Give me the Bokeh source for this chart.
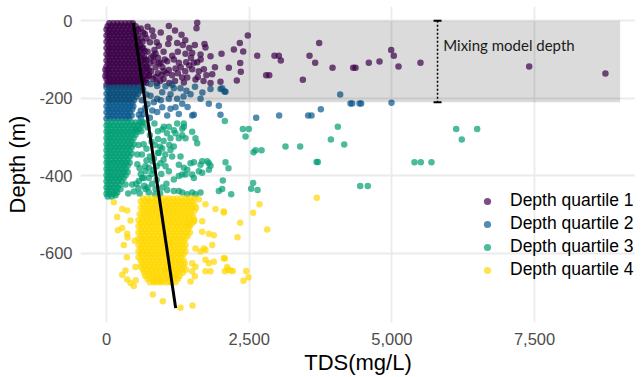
from bokeh.plotting import figure
from bokeh.models import ColumnDataSource, FixedTicker, Legend, LegendItem, Range1d, NumeralTickFormatter, CustomJSTickFormatter
from bokeh.embed import file_html
from bokeh.resources import INLINE
from bokeh.core.properties import value

# ---------------- data ----------------
quartile_labels = ["Depth quartile 1", "Depth quartile 2", "Depth quartile 3", "Depth quartile 4"]
quartile_colors = ["#440154", "#0A5A8E", "#009E73", "#FFD700"]

x_ticks = [0, 2500, 5000, 7500]
y_ticks = [0, -200, -400, -600]

# mixing model depth band and bracket
mix_tds_left = 0
mix_tds_right = 9000
mix_depth_top = 0
mix_depth_bottom = -210
bracket_tds = 5800
bracket_label = "Mixing model depth"
bracket_label_tds = 5900
bracket_label_depth = -62

# trend line
trend_tds = [469, 1212]
trend_depth = [-5, -741]

# dense parts of each quartile, read row by row: (depth m, [TDS mg/L ...])
q1_rows = [
    (-6, [50,120,190,260,330,400,460]),
    (-14, [20,90,160,230,300,370,440,510]),
    (-22, [0,60,130,200,270,340,410,480,550]),
    (-30, [30,100,170,240,310,380,450,520]),
    (-38, [0,60,130,200,270,340,410,480,550]),
    (-46, [30,100,170,240,310,380,450,520,600]),
    (-54, [0,60,130,200,270,340,410,480,550,630]),
    (-62, [30,100,170,240,310,380,450,520,590]),
    (-70, [0,60,130,200,270,340,410,480,550,620]),
    (-78, [30,100,170,240,310,380,450,520,590,670]),
    (-86, [0,60,130,200,270,340,410,480,550,620]),
    (-94, [30,100,170,240,310,380,450,520,590,660]),
    (-102, [0,60,130,200,270,340,410,480,550,620,700]),
    (-110, [30,100,170,240,310,380,450,520,590,660]),
    (-118, [0,60,130,200,270,340,410,480,550,620,700]),
    (-126, [-20,30,100,170,240,310,380,450,520,590,660,740]),
    (-134, [0,60,130,200,270,340,410,480,550,620,700]),
    (-142, [-20,30,100,170,240,310,380,450,520,590,660,740]),
    (-150, [0,60,130,200,270,340,410,480,550,620,700]),
    (-158, [30,100,170,240,310,380,450,520,590,660]),
    (-165, [0,60,130,200,270,340,410,480,550]),
]
q2_rows = [
    (-172, [0,60,130,200,270,340,410,480,550,620]),
    (-180, [30,100,170,240,310,380,450,520,590]),
    (-188, [0,60,130,200,270,340,410,480,550]),
    (-196, [30,100,170,240,310,380,450,520]),
    (-204, [0,60,130,200,270,340,410,480]),
    (-212, [30,100,170,240,310,380,450]),
    (-220, [0,60,130,200,270,340,410,470]),
    (-228, [30,100,170,240,310,380,450]),
    (-236, [0,60,130,200,270,340,410]),
    (-244, [30,100,170,240,310,380,440]),
    (-252, [0,60,130,200,270,340,400]),
]
q3_rows = [
    (-262, [20,90,160,230,300,370,440,510,580,650]),
    (-270, [0,55,125,195,265,335,405,475,545,620]),
    (-278, [20,90,160,230,300,370,440,510,580]),
    (-286, [0,55,125,195,265,335,405,475,545]),
    (-294, [20,90,160,230,300,370,440,510]),
    (-302, [0,55,125,195,265,335,405,475]),
    (-310, [20,90,160,230,300,370,440]),
    (-318, [0,55,125,195,265,335,405,475]),
    (-326, [20,90,160,230,300,370,440]),
    (-334, [0,55,125,195,265,335,405]),
    (-342, [20,90,160,230,300,370,440]),
    (-350, [0,55,125,195,265,335,405]),
    (-358, [20,90,160,230,300,370]),
    (-366, [0,55,125,195,265,335,405]),
    (-374, [20,90,160,230,300,370]),
    (-382, [0,55,125,195,265,335]),
    (-390, [20,90,160,230,300,370]),
    (-398, [0,55,125,195,265,335]),
    (-406, [20,90,160,230,300]),
    (-414, [0,55,125,195,265]),
    (-422, [20,90,160,230]),
    (-430, [0,55,125,195]),
    (-438, [20,90,160]),
    (-446, [0,55,125]),
    (-453, [20,90]),
]
q4_rows = [
    (-458, [640,715,790,865,940,1015,1090,1165,1240,1315,1390,1465,1540]),
    (-466, [600,675,750,825,900,975,1050,1125,1200,1275,1350,1425,1500]),
    (-474, [640,715,790,865,940,1015,1090,1165,1240,1315,1390,1465,1540]),
    (-482, [600,675,750,825,900,975,1050,1125,1200,1275,1350,1425,1500,1570]),
    (-490, [640,715,790,865,940,1015,1090,1165,1240,1315,1390,1465,1540]),
    (-498, [580,655,730,805,880,955,1030,1105,1180,1255,1330,1405,1480]),
    (-506, [620,695,770,845,920,995,1070,1145,1220,1295,1370,1445,1520]),
    (-514, [560,635,710,785,860,935,1010,1085,1160,1235,1310,1385,1460,1540]),
    (-522, [600,675,750,825,900,975,1050,1125,1200,1275,1350,1425,1500]),
    (-530, [560,635,710,785,860,935,1010,1085,1160,1235,1310,1385,1460]),
    (-538, [600,675,750,825,900,975,1050,1125,1200,1275,1350,1425]),
    (-546, [560,635,710,785,860,935,1010,1085,1160,1235,1310,1385,1460]),
    (-554, [600,675,750,825,900,975,1050,1125,1200,1275,1350,1425]),
    (-562, [560,635,710,785,860,935,1010,1085,1160,1235,1310,1385]),
    (-570, [600,675,750,825,900,975,1050,1125,1200,1275,1350]),
    (-578, [560,635,710,785,860,935,1010,1085,1160,1235,1310,1385]),
    (-586, [600,675,750,825,900,975,1050,1125,1200,1275,1350]),
    (-594, [560,635,710,785,860,935,1010,1085,1160,1235,1310,1385]),
    (-602, [600,675,750,825,900,975,1050,1125,1200,1275,1350]),
    (-610, [560,635,710,785,860,935,1010,1085,1160,1235,1310]),
    (-618, [600,675,750,825,900,975,1050,1125,1200,1275,1350]),
    (-626, [620,695,770,845,920,995,1070,1145,1220,1295,1370]),
    (-634, [600,675,750,825,900,975,1050,1125,1200,1275,1350]),
    (-642, [640,715,790,865,940,1015,1090,1165,1240,1315,1390]),
    (-650, [660,735,810,885,960,1035,1110,1185,1260,1335]),
    (-658, [680,755,830,905,980,1055,1130,1205,1280]),
    (-666, [720,795,870,945,1020,1095,1170,1250]),
    (-674, [760,835,910,985,1060,1135,1210]),
]

# scattered points of each quartile: (TDS mg/L, depth m)
q1_points = [
    (600,-20),(700,-45),(760,-55),(640,-70),(720,-80),(780,-95),(860,-120),(900,-135),(960,-140),(1000,-150),
    (820,-150),(880,-160),(750,-140),(680,-100),(760,-110),(840,-75),(900,-95),(980,-120),(1150,-140),(1200,-155),
    (1100,-160),(1250,-135),(1300,-120),(1180,-100),(1450,-115),(1380,-130),(1480,-95),(1650,-100),(1750,-140),
    (1600,-145),(1700,-155),(1900,-120),(1250,-80),(1450,-70),(1100,-45),(950,-30),(800,-25),(1200,-25),(1380,-50),(1000,-80),
    (640,-30),(720,-15),(820,-40),(880,-55),(700,-120),(780,-130),(820,-90),(920,-110),(860,-145),(940,-155),
    (1020,-100),(1050,-135),(640,-150),(700,-160),
    (1092,-13),(1589,-5),(1577,-19),(1314,-36),(671,-34),(916,-64),(1081,-60),(1238,-57),(1337,-62),(1547,-62),
    (1717,-60),(1734,-69),(858,-85),(1151,-90),(1384,-85),(1501,-83),(1647,-87),(1822,-91),(829,-104),(946,-108),
    (1063,-104),(1267,-108),(1396,-107),(1530,-108),(1589,-107),(1705,-125),(1004,-130),(1092,-127),(1209,-123),
    (1501,-125),(1617,-130),(1852,-138),(1326,-146),(1414,-146),(1559,-151),(1355,-159),(1822,-160),
    (2476,-38),(2336,-57),(2231,-74),(2395,-79),(2015,-85),(2640,-90),(2943,-90),(3019,-90),(3054,-102),(2342,-109),
    (2143,-121),(2353,-131),(2798,-140),(2851,-140),(2283,-154),(1997,-157),(3440,-152),(3726,-57),(3557,-90),
    (3656,-108),(3960,-121),(4322,-121),(4363,-121),(4596,-108),(4783,-105),(4988,-75),(5034,-90),(5116,-118),
    (5501,-108),(7406,-118),(8742,-136),
]
q2_points = [
    (640,-178),(700,-190),(620,-205),(720,-215),(680,-225),(600,-232),(830,-210),(950,-205),(1400,-180),(1550,-170),
    (1680,-185),(1150,-165),(1350,-195),(1420,-222),(760,-250),(600,-250),
    (771,-163),(888,-168),(1034,-169),(1179,-174),(1296,-174),(976,-184),(1121,-189),(771,-193),(888,-201),(1238,-201),
    (1092,-201),(566,-242),(654,-240),(888,-235),(1063,-244),(1121,-227),(976,-223),(801,-231),(1209,-223),(1267,-240),
    (1530,-242),(1501,-244),(1326,-214),(1472,-189),(1647,-201),(1793,-214),(1968,-219),(1822,-176),(1997,-176),
    (2085,-183),(2027,-174),(2067,-182),(4094,-190),(1997,-242),(2623,-250),(3025,-244),(3533,-244),(3592,-244),
    (3755,-228),(4275,-213),(4305,-213),(4433,-213),(4462,-213),(4993,-211),
]
q3_points = [
    (720,-275),(840,-265),(980,-280),(760,-295),(900,-305),(560,-320),(700,-330),(850,-320),
    (1000,-310),(620,-345),(760,-350),(900,-340),(540,-370),(680,-375),(820,-385),(960,-395),(600,-395),(740,-405),
    (880,-410),(520,-420),(660,-425),(800,-420),(940,-445),(580,-445),(1060,-290),(1150,-350),(1050,-420),(480,-440),(380,-445),
    (520,-280),(610,-285),(650,-318),(790,-312),(540,-345),(700,-360),(830,-355),(580,-380),(880,-375),(650,-405),
    (790,-395),(560,-432),(720,-430),(850,-448),(1000,-358),(940,-325),(1100,-320),(1030,-345),(620,-262),(900,-285),
    (1355,-265),(1326,-278),(1501,-286),(1559,-303),(1589,-316),(1384,-303),(1267,-303),(1209,-290),(1092,-273),(1004,-273),
    (1179,-324),(1121,-333),(976,-329),(916,-341),(1296,-350),(1530,-365),(1676,-362),(1793,-367),(1822,-374),(1676,-392),
    (1617,-388),(1501,-396),(1384,-396),(1355,-379),(1267,-400),(1179,-409),(1092,-388),(1034,-375),(946,-367),(801,-362),
    (741,-379),(683,-388),(625,-405),(566,-413),(683,-434),(741,-443),(858,-434),(976,-430),(1063,-436),(1179,-439),
    (1267,-439),(1326,-443),(1414,-447),(1501,-443),(1559,-447),(1647,-443),(1968,-439),(2027,-434),(450,-422),(333,-422),
    (245,-434),(187,-443),(158,-450),
    (1764,-362),(1793,-384),(1647,-371),(1530,-405),(1414,-384),(1472,-367),(1326,-396),(1267,-371),
    (1238,-265),(1355,-273),(1179,-282),(1326,-295),(1121,-303),
    (2073,-258),(2389,-279),(2494,-279),(2436,-298),(3136,-324),(3393,-324),(2611,-334),(2716,-334),(2576,-339),
    (3680,-364),(3703,-364),(4053,-273),(3931,-306),(4165,-319),(2085,-365),(2137,-380),(2038,-412),(2570,-418),
    (2535,-433),(2646,-436),(2185,-447),(6127,-279),(6495,-279),(6225,-306),(5396,-365),(5507,-365),(5694,-365),
    (4445,-426),(4578,-426),
]
q4_points = [
    (3685,-456),(2681,-473),(2055,-492),(2570,-495),(2342,-521),(2815,-538),(2295,-558),
    (2073,-613),(2114,-635),(2073,-646),(2172,-644),(2213,-645),(2125,-642),(2448,-645),(2488,-661),(2400,-670),
    (198,-540),(362,-549),(368,-559),(275,-534),(496,-567),(303,-578),(356,-610),(508,-635),(333,-644),(275,-655),
    (362,-667),(420,-676),(478,-684),(514,-669),(811,-706),(986,-723),(1296,-740),(1507,-734),(829,-672),(946,-672),
    (1104,-673),(1179,-663),(1472,-672),(1547,-659),(1501,-646),(1734,-646),(1822,-646),(1734,-616),(1793,-625),
    (1880,-621),(2055,-612),(1852,-578),(1880,-553),(1793,-549),(1676,-544),(1676,-517),(1530,-517),(1442,-528),
    (1705,-587),(1734,-591),(1647,-595),(1559,-587),(1501,-625),(1559,-634),
    (128,-468),(275,-485),(362,-489),(187,-506),(420,-515),(1617,-460),(1734,-473),(1910,-485),(2055,-494),
]

quartile_rows = [q1_rows, q2_rows, q3_rows, q4_rows]
quartile_points = [q1_points, q2_points, q3_points, q4_points]

# ---------------- figure ----------------
p = figure(width=635, height=377,
           x_range=Range1d(-456, 9269), y_range=Range1d(-778, 37),
           output_backend="svg", toolbar_location=None,
           min_border_left=80, min_border_right=0, min_border_top=6, min_border_bottom=50,
           x_axis_label="TDS(mg/L)", y_axis_label="Depth (m)")
p.outline_line_color = None
p.background_fill_color = "white"
p.border_fill_color = "white"

for ax in (p.xaxis[0], p.yaxis[0]):
    ax.axis_line_color = None
    ax.major_tick_line_color = None
    ax.minor_tick_line_color = None
    ax.major_tick_in = 0
    ax.major_tick_out = 0
    ax.minor_tick_in = 0
    ax.minor_tick_out = 0
    ax.major_label_standoff = 8
    ax.major_label_text_font = "Liberation Sans"
    ax.major_label_text_font_size = "16.5px"
    ax.major_label_text_color = "#4D4D4D"
    ax.axis_label_text_font = "Liberation Sans"
    ax.axis_label_text_font_size = "22px"
    ax.axis_label_text_font_style = "normal"
    ax.axis_label_text_color = "black"

p.xaxis.ticker = FixedTicker(ticks=x_ticks)
p.yaxis.ticker = FixedTicker(ticks=y_ticks)
p.xaxis.formatter = NumeralTickFormatter(format="0,0")
p.yaxis.formatter = CustomJSTickFormatter(code="return tick.toFixed(0);")
p.xaxis.major_label_standoff = 10
p.xaxis.axis_label_standoff = 2
p.yaxis.axis_label_standoff = 6
p.xgrid.ticker = FixedTicker(ticks=x_ticks)
p.ygrid.ticker = FixedTicker(ticks=y_ticks)
p.grid.grid_line_color = "#EBEBEB"
p.grid.grid_line_width = 1.8
p.grid.minor_grid_line_color = None

items = []
for label, color, rows, pts in zip(quartile_labels, quartile_colors, quartile_rows, quartile_points):
    tds = [t for d, ts in rows for t in ts] + [t for t, d in pts]
    depth = [d for d, ts in rows for t in ts] + [d for t, d in pts]
    src = ColumnDataSource(data=dict(tds=tds, depth=depth))
    r = p.scatter("tds", "depth", source=src, size=6.5, fill_color=color, fill_alpha=0.7, line_color=None)
    items.append(LegendItem(label=label, renderers=[r]))

# shaded mixing-depth band, drawn over the points
p.quad(left=[mix_tds_left], right=[mix_tds_right], top=[mix_depth_top], bottom=[mix_depth_bottom],
       fill_color="black", fill_alpha=0.14, line_color=None)

# trend line
p.line(trend_tds, trend_depth, line_color="black", line_width=3)

# bracket
cap_half = 70
p.segment(x0=[bracket_tds], y0=[mix_depth_top], x1=[bracket_tds], y1=[mix_depth_bottom],
          line_color="black", line_width=1.5, line_dash="2 2")
p.segment(x0=[bracket_tds - cap_half, bracket_tds - cap_half], y0=[mix_depth_top, mix_depth_bottom],
          x1=[bracket_tds + cap_half, bracket_tds + cap_half], y1=[mix_depth_top, mix_depth_bottom],
          line_color="black", line_width=2)
p.text(x=[bracket_label_tds], y=[bracket_label_depth], text=[bracket_label],
       text_font=value("Lato"), text_font_size="15px", text_baseline="middle", text_align="left",
       text_color="#1a1a1a")

legend = Legend(items=items, location=(398, 42), background_fill_alpha=0, border_line_color=None,
                padding=0, margin=0, spacing=2, glyph_width=18, glyph_height=18, label_standoff=14,
                label_height=20, label_text_font="Liberation Sans", label_text_font_size="17.5px",
                label_text_color="black")
p.add_layout(legend)

open("out.html", "w").write(file_html(p, INLINE))
